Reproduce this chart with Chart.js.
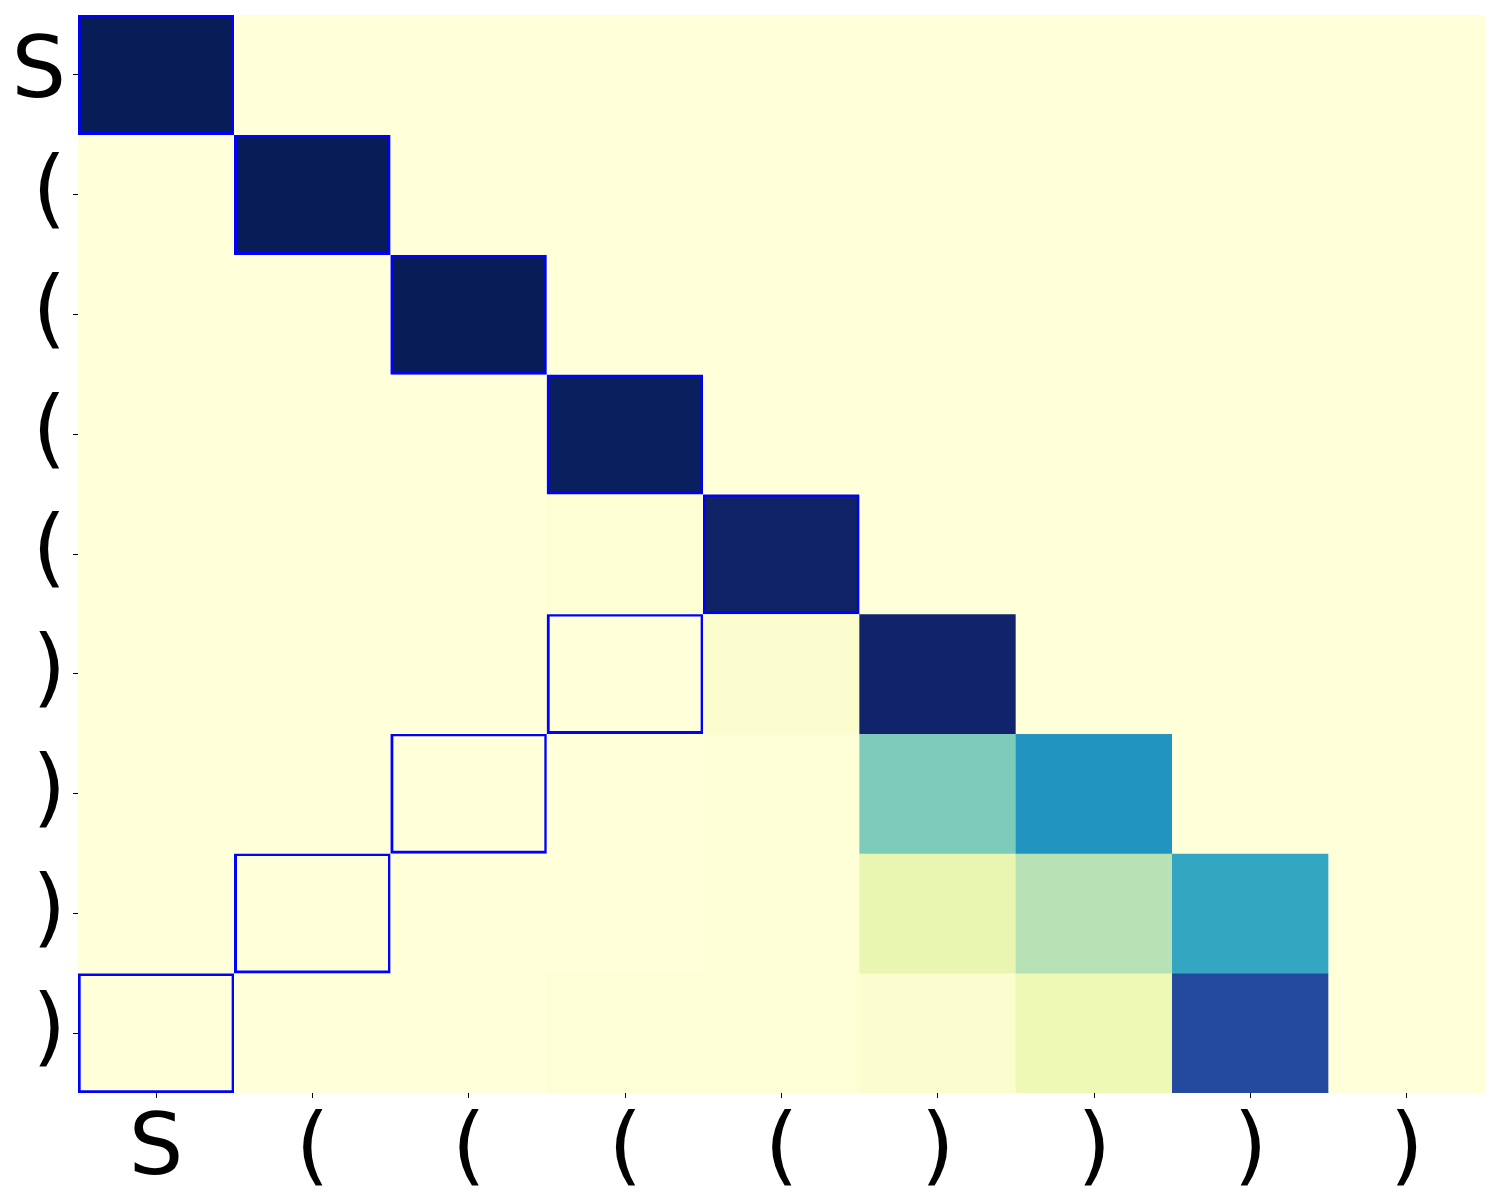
<!DOCTYPE html>
<html>
<head>
<meta charset="utf-8">
<script src="https://cdn.jsdelivr.net/npm/chart.js@4"></script>
<style>
  html, body { margin: 0; padding: 0; background: #fff; }
  #wrap { width: 1500px; height: 1200px; }
</style>
</head>
<body>
<div id="wrap"><canvas id="heatmap"></canvas></div>
<script>
// Etiquetas dos eixos
const xLabels = ['S', '(', '(', '(', '(', ')', ')', ')', ')'];
const yLabels = ['S', '(', '(', '(', '(', ')', ')', ')', ')'];

// Valores de cada linha (escala 0..1)
const row0 = [1.00, 0, 0, 0, 0, 0, 0, 0, 0];
const row1 = [0, 1.00, 0, 0, 0, 0, 0, 0, 0];
const row2 = [0, 0, 1.00, 0, 0, 0, 0, 0, 0];
const row3 = [0, 0, 0, 0.99, 0, 0, 0, 0, 0];
const row4 = [0, 0, 0, 0.02, 0.97, 0, 0, 0, 0];
const row5 = [0, 0, 0, 0, 0.03, 0.96, 0, 0, 0];
const row6 = [0, 0, 0, 0, 0.01, 0.38, 0.61, 0, 0];
const row7 = [0, 0, 0, 0, 0.01, 0.14, 0.28, 0.55, 0];
const row8 = [0, 0, 0, 0.01, 0.01, 0.03, 0.11, 0.81, 0];
const cellRows = [row0, row1, row2, row3, row4, row5, row6, row7, row8];

// Células com contorno azul [linha, coluna]
const boxedCells = [[0, 0], [1, 1], [2, 2], [3, 3], [4, 4], [5, 3], [6, 2], [7, 1], [8, 0]];

// Paleta YlGnBu
const YLGNBU = ['#ffffd9', '#edf8b1', '#c7e9b4', '#7fcdbb', '#41b6c4', '#1d91c0', '#225ea8', '#253494', '#081d58'];

function hexToRgb(h) {
  return [parseInt(h.slice(1, 3), 16), parseInt(h.slice(3, 5), 16), parseInt(h.slice(5, 7), 16)];
}

function colorFor(v) {
  const t = Math.max(0, Math.min(1, v)) * (YLGNBU.length - 1);
  const i = Math.min(Math.floor(t), YLGNBU.length - 2);
  const f = t - i;
  const a = hexToRgb(YLGNBU[i]), b = hexToRgb(YLGNBU[i + 1]);
  const c = a.map((x, k) => Math.round(x + (b[k] - x) * f));
  return `rgb(${c[0]}, ${c[1]}, ${c[2]})`;
}

function isBoxed(r, c) {
  return boxedCells.some(p => p[0] === r && p[1] === c);
}

const datasets = cellRows.map((vals, r) => ({
  label: 'linha ' + r,
  data: vals.map(() => [r, r + 1]),
  backgroundColor: vals.map(v => colorFor(v)),
  borderColor: vals.map((v, c) => isBoxed(r, c) ? '#0000ff' : 'rgba(0,0,0,0)'),
  borderWidth: vals.map((v, c) => isBoxed(r, c) ? 3 : 0),
  borderSkipped: false,
  barPercentage: 1.0,
  categoryPercentage: 1.0,
  grouped: false
}));

// Fundo da área do gráfico para esconder emendas entre células
const areaBackground = {
  id: 'areaBackground',
  beforeDatasetsDraw(chart) {
    const { ctx, chartArea } = chart;
    ctx.save();
    ctx.fillStyle = YLGNBU[0];
    ctx.fillRect(chartArea.left, chartArea.top, chartArea.right - chartArea.left, chartArea.bottom - chartArea.top);
    ctx.restore();
  }
};

new Chart(document.getElementById('heatmap'), {
  type: 'bar',
  data: { labels: xLabels, datasets: datasets },
  plugins: [areaBackground],
  options: {
    responsive: true,
    maintainAspectRatio: false,
    animation: false,
    layout: { padding: { top: 15, right: 15, left: 0, bottom: 0 } },
    plugins: {
      legend: { display: false },
      tooltip: { enabled: false }
    },
    scales: {
      x: {
        type: 'category',
        offset: true,
        grid: { offset: false, drawOnChartArea: false, drawTicks: true, tickLength: 5, color: '#000', lineWidth: 1 },
        border: { display: false },
        ticks: { color: '#000', font: { family: 'DejaVu Sans', size: 86 }, padding: 2, maxRotation: 0, autoSkip: false },
        afterFit: scale => { scale.height = 107; }
      },
      y: {
        type: 'linear',
        min: 0,
        max: 9,
        reverse: true,
        grid: { drawOnChartArea: false, drawTicks: true, tickLength: 5, color: '#000', lineWidth: 1 },
        border: { display: false },
        afterBuildTicks: axis => {
          axis.ticks = yLabels.map((_, i) => ({ value: i + 0.5 }));
        },
        ticks: {
          color: '#000',
          font: { family: 'DejaVu Sans', size: 86, lineHeight: 0.12 },
          padding: 7,
          autoSkip: false,
          callback: v => yLabels[Math.floor(v)]
        },
        afterFit: scale => { scale.width = 78; }
      }
    }
  }
});
</script>
</body>
</html>
